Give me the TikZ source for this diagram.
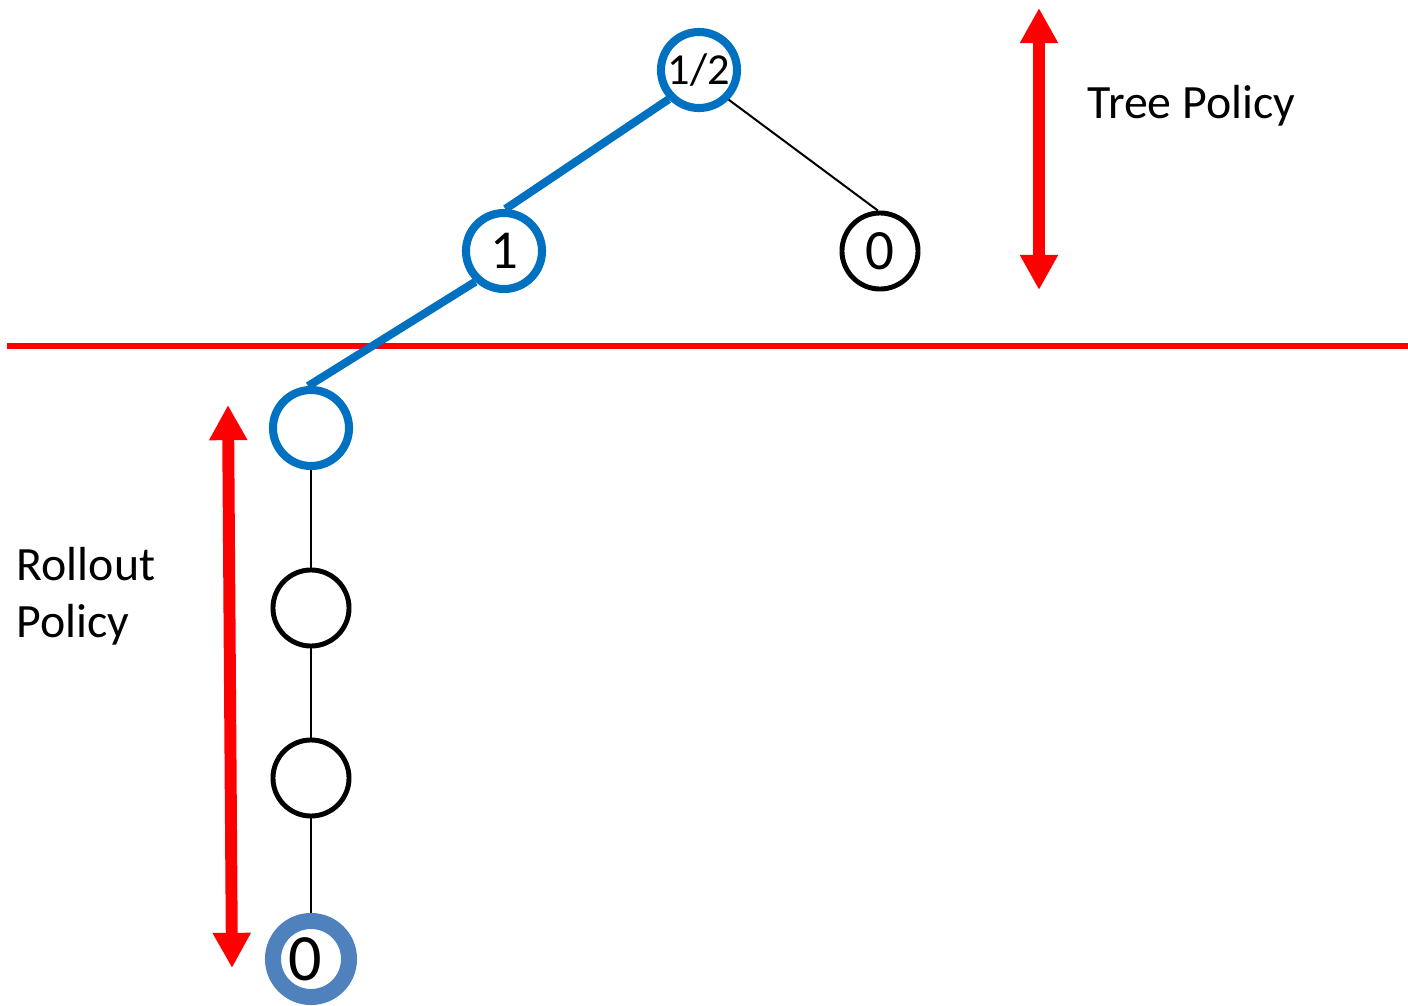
\documentclass[tikz,border=0pt]{standalone}
\usepackage{fontspec}
\setmainfont{Carlito}
\usetikzlibrary{arrows.meta}
\definecolor{treeblue}{HTML}{0070C0}
\definecolor{leafblue}{HTML}{4F81BD}
\definecolor{policyred}{HTML}{FF0000}
\tikzset{
  state/.style={circle, draw=black, line width=1.4pt, minimum size=0.76cm, inner sep=0pt, fill=white},
  pathstate/.style={state, draw=treeblue, line width=2.3pt},
  leafstate/.style={state, draw=leafblue, line width=4.55pt},
  pathedge/.style={draw=treeblue, line width=2.3pt},
  thinedge/.style={draw=black, line width=0.57pt},
  rangearrow/.style={draw=policyred, line width=3.4pt, {Triangle[width=10.2pt,length=10pt]}-{Triangle[width=10.2pt,length=10pt]}},
  divider/.style={draw=policyred, line width=1.7pt},
  label/.style={font=\fontsize{13.6pt}{15.5pt}\selectfont, inner sep=0pt}
}
\begin{document}
\begin{tikzpicture}[x=0.01cm, y=-0.01cm]
\useasboundingbox (0,0) rectangle (1408,1006);

% policy boundary
\coordinate (dl) at (7,346);
\coordinate (dr) at (1408,346);
\draw[divider] (dl) -- (dr);

% search tree
\node[pathstate, font=\fontsize{12.6pt}{14pt}\selectfont] (root) at (699,70) {1/2};
\node[pathstate, font=\fontsize{15.6pt}{17pt}\selectfont] (n1) at (504,251) {1};
\node[state, font=\fontsize{16.2pt}{18pt}\selectfont] (n0) at (880,251) {0};

% rollout chain
\node[pathstate] (r1) at (311,428) {};
\node[state] (r2) at (311,608) {};
\node[state] (r3) at (311,778) {};
\node[leafstate, font=\fontsize{18.8pt}{20pt}\selectfont] (leaf) at (311,959) {\hspace*{-0.12cm}0};

% edges
\draw[pathedge] (root.224) -- (n1.88);
\draw[pathedge] (n1.227) -- (r1.94);
\draw[thinedge] (root.315) -- (n0.93);
\draw[thinedge] (r1.south) -- (r2.north);
\draw[thinedge] (r2.south) -- (r3.north);
\draw[thinedge] (r3.south) -- (leaf.north);

% policy ranges
\coordinate (ta) at (1039,8);
\coordinate (tb) at (1039,290);
\draw[rangearrow] (ta) -- (tb);
\coordinate (ra) at (228,405);
\coordinate (rb) at (232,968);
\draw[rangearrow] (ra) -- (rb);

% labels
\node[label, anchor=base west] (treelbl) at (1087,119) {Tree Policy};
\node[label, anchor=base west] (rolllbl1) at (16,580) {Rollout};
\node[label, anchor=base west] (rolllbl2) at (16,637) {Policy};
\end{tikzpicture}
\end{document}
